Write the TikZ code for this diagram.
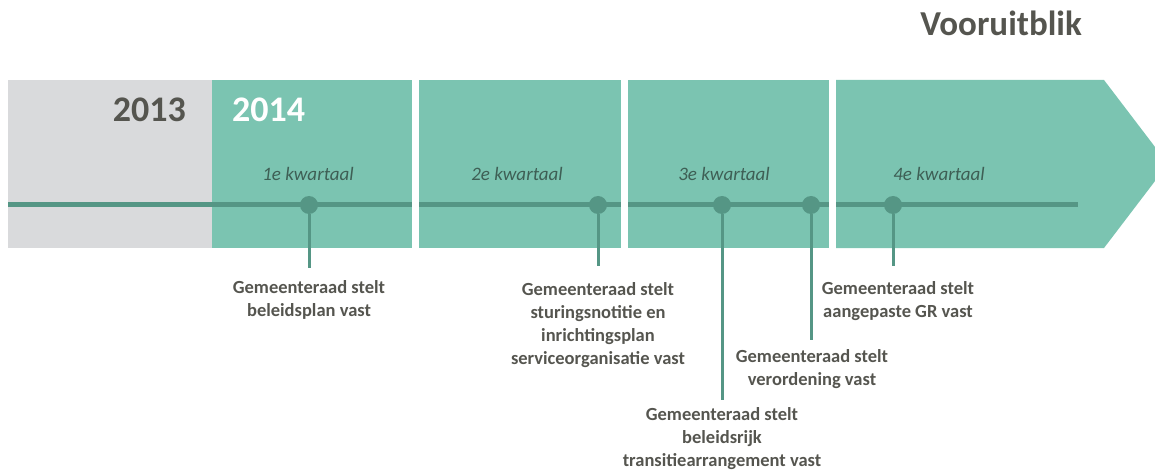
\documentclass[tikz,border=0pt]{standalone}
\usepackage{fontspec}
\setmainfont{Carlito}
\definecolor{kwart}{HTML}{7BC4B1}
\definecolor{grijs}{HTML}{D9DADC}
\definecolor{lijn}{HTML}{559685}
\definecolor{tekst}{HTML}{55554F}
\definecolor{kwtekst}{HTML}{3E5F55}

\begin{document}
\begin{tikzpicture}[x=1pt, y=-1pt,
    punt/.style={circle, fill=lijn, inner sep=0pt, minimum size=18pt},
    besluit/.style={anchor=north, align=center, inner sep=0pt, text=tekst,
        font=\fontsize{18.5}{23}\selectfont\bfseries},
    kwartaal/.style={inner sep=0pt, text=kwtekst, font=\fontsize{19}{22}\selectfont\itshape},
    jaar/.style={inner sep=0pt, font=\fontsize{36}{40}\selectfont\bfseries},
    stok/.style={draw=lijn, line width=3pt},
    tijdlijn/.style={draw=lijn, line width=5pt}]
    \useasboundingbox (0,0) rectangle (1155,470);
    \clip (0,0) rectangle (1155,470);

    % vlakken
    \fill[grijs] (8,80) rectangle (212,248);
    \fill[kwart] (212,80) rectangle (412,248);
    \fill[kwart] (419,80) rectangle (621,248);
    \fill[kwart] (628,80) rectangle (829,248);
    \fill[kwart] (836,80) -- (1104,80) -- (1168,164) -- (1104,248) -- (836,248) -- cycle;

    % tijdlijn
    \draw[tijdlijn] (8,205) -- (412,205);
    \draw[tijdlijn] (419,205) -- (621,205);
    \draw[tijdlijn] (628,205) -- (829,205);
    \draw[tijdlijn] (836,205) -- (1078,205);

    % teksten
    \node[jaar, text=tekst, anchor=east] (j13) at (186,110) {2013};
    \node[jaar, text=white, anchor=west] (j14) at (232,110) {2014};
    \node[jaar, text=tekst, font=\fontsize{35}{40}\selectfont\bfseries] (titel) at (1001,23) {Vooruitblik};
    \node[kwartaal] (k1) at (308,174) {1e kwartaal};
    \node[kwartaal] (k2) at (517,174) {2e kwartaal};
    \node[kwartaal] (k3) at (724,174) {3e kwartaal};
    \node[kwartaal] (k4) at (939,174) {4e kwartaal};

    % momenten
    \node[punt] (p1) at (309,205) {};
    \node[punt] (p2) at (598,205) {};
    \node[punt] (p3) at (722,205) {};
    \node[punt] (p4) at (811,205) {};
    \node[punt] (p5) at (893,205) {};

    \node[besluit] (b1) at (309,280) {Gemeenteraad stelt\\beleidsplan vast};
    \node[besluit] (b2) at (598,282) {Gemeenteraad stelt\\sturingsnotitie en\\inrichtingsplan\\serviceorganisatie vast};
    \node[besluit] (b3) at (722,407) {Gemeenteraad stelt\\beleidsrijk\\transitiearrangement vast};
    \node[besluit] (b4) at (812,349) {Gemeenteraad stelt\\verordening vast};
    \node[besluit] (b5) at (898,281) {Gemeenteraad stelt\\aangepaste GR vast};

    % verbindingen
    \draw[stok, shorten >=12pt] (p1) -- (p1 |- b1.north);
    \draw[stok, shorten >=16pt] (p2) -- (p2 |- b2.north);
    \draw[stok, shorten >=7pt] (p3) -- (p3 |- b3.north);
    \draw[stok, shorten >=9pt] (p4) -- (p4 |- b4.north);
    \draw[stok, shorten >=15pt] (p5) -- (p5 |- b5.north);
\end{tikzpicture}
\end{document}
